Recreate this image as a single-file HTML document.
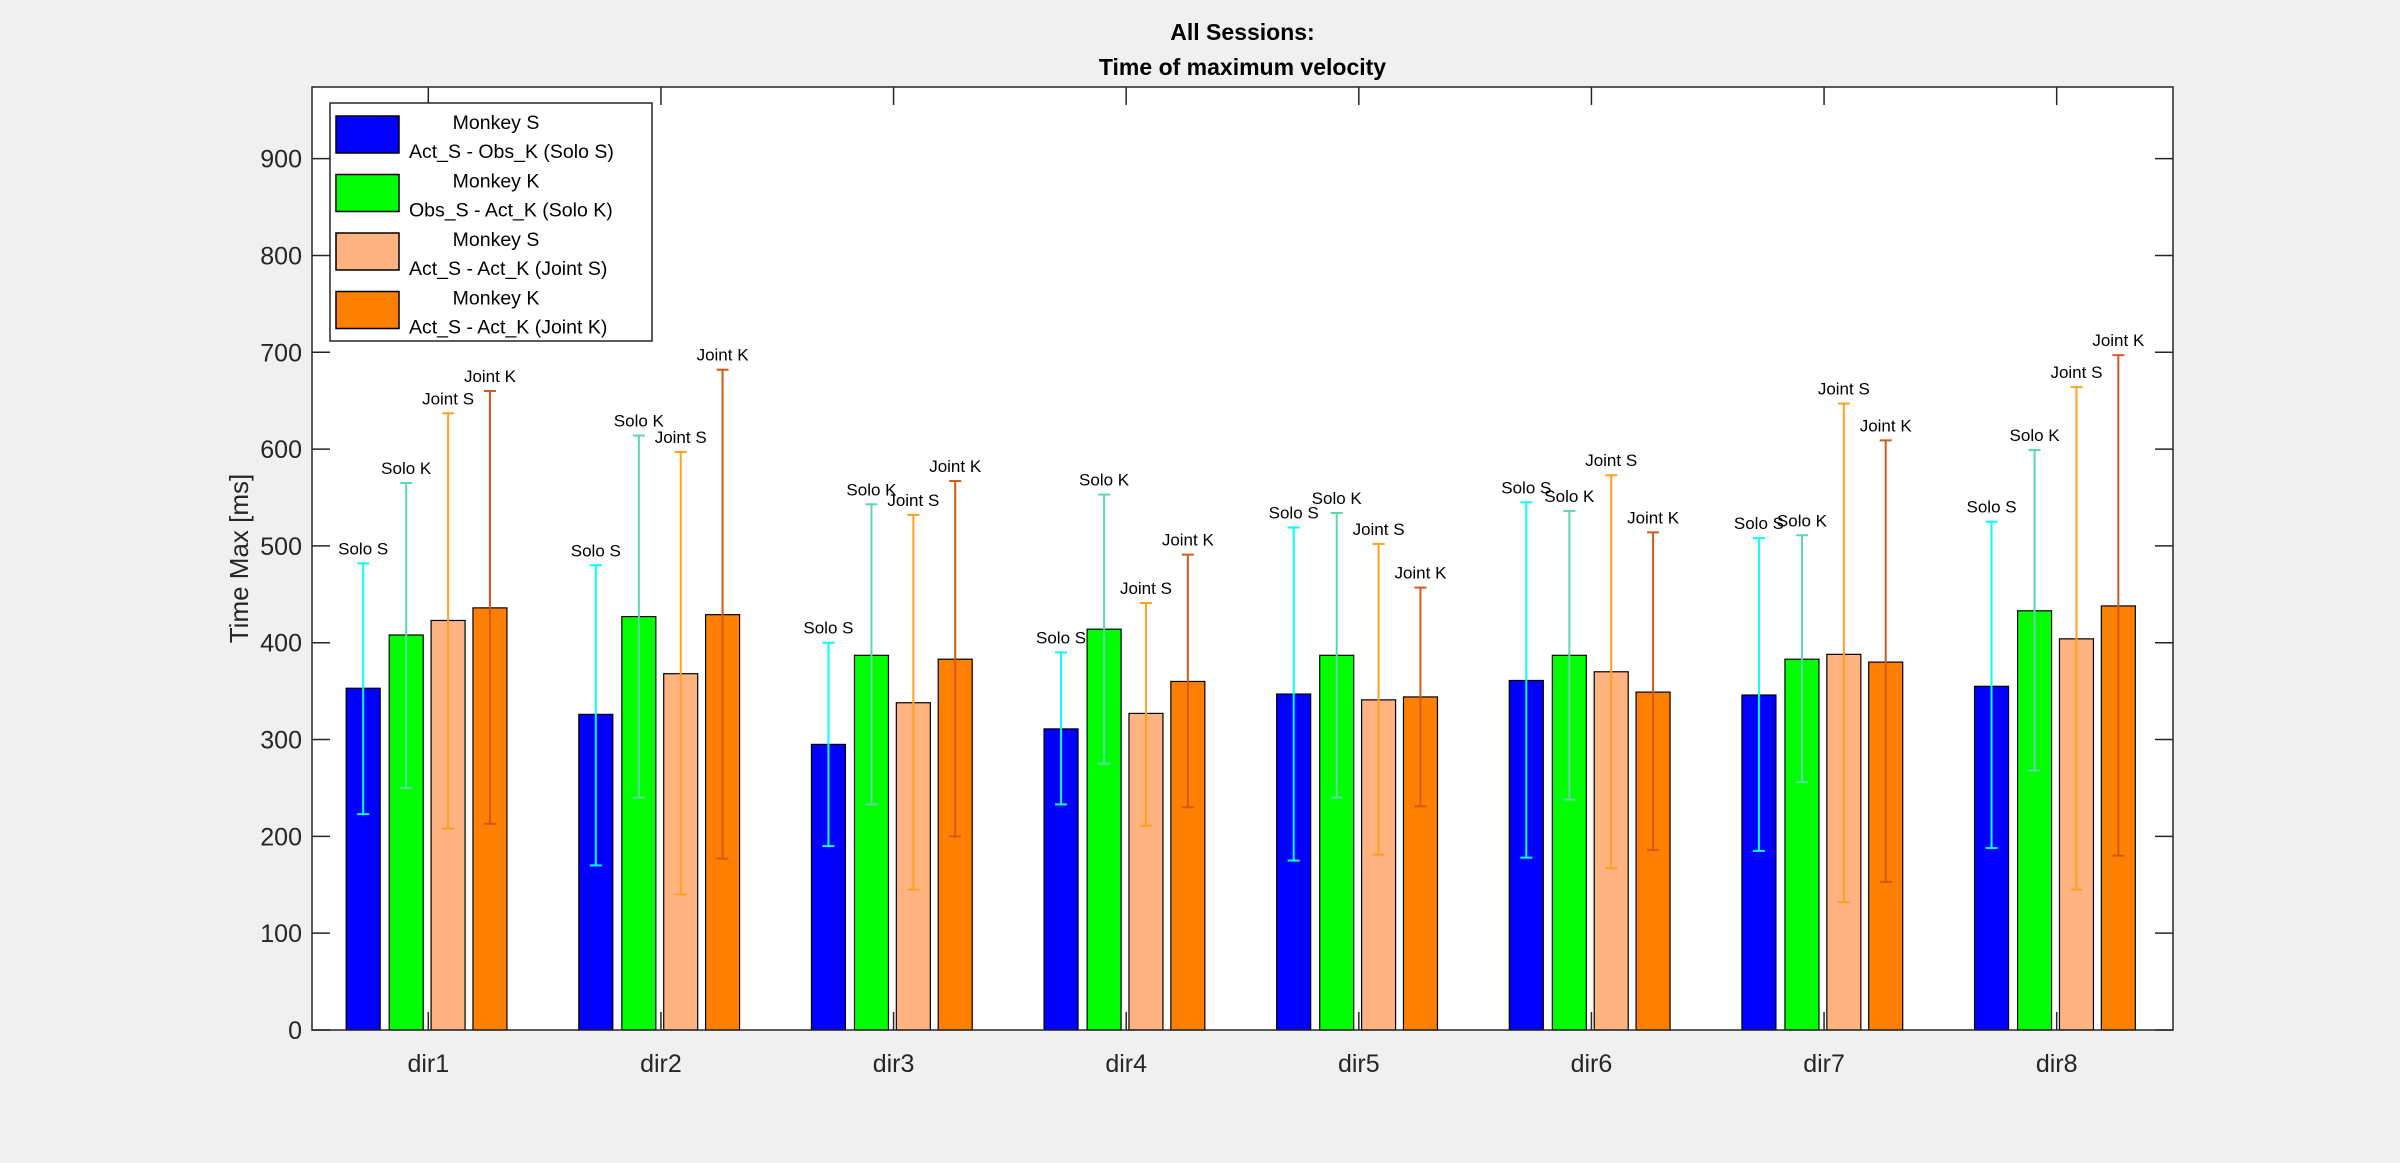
<!DOCTYPE html>
<html><head><meta charset="utf-8"><style>
body{margin:0;background:#f0f0f0;width:2400px;height:1158px;overflow:hidden;font-family:"Liberation Sans",Arial,sans-serif}
</style></head><body>
<svg id="chart" width="2400" height="1158" xmlns="http://www.w3.org/2000/svg" font-family="Liberation Sans, Arial, sans-serif"></svg>
<script>
const categories=["dir1","dir2","dir3","dir4","dir5","dir6","dir7","dir8"];
const seriesNames=["Solo S","Solo K","Joint S","Joint K"];
const soloS=[353,326,295,311,347,361,346,355];
const soloSLo=[223,170,190,233,175,178,185,188];
const soloSHi=[482,480,400,390,519,545,508,525];
const soloK=[408,427,387,414,387,387,383,433];
const soloKLo=[250,240,233,275,240,238,256,268];
const soloKHi=[565,614,543,553,534,536,511,599];
const jointS=[423,368,338,327,341,370,388,404];
const jointSLo=[208,140,145,211,181,167,132,145];
const jointSHi=[637,597,532,441,502,573,647,664];
const jointK=[436,429,383,360,344,349,380,438];
const jointKLo=[213,177,200,230,231,186,153,180];
const jointKHi=[660,682,567,491,457,514,609,697];
const yTicks=[0,100,200,300,400,500,600,700,800,900];
const legendLines=[["Monkey S","Act_S - Obs_K (Solo S)"],["Monkey K","Obs_S - Act_K (Solo K)"],["Monkey S","Act_S - Act_K (Joint S)"],["Monkey K","Act_S - Act_K (Joint K)"]];

const svg=document.getElementById('chart');
const NS="http://www.w3.org/2000/svg";
const L=312,R=2173,T=87,B=1030,yMax=974;
const xs=v=>L+(v-0.5)/8*(R-L);
const ys=v=>B-v/yMax*(B-T);
function el(tag,attrs,parent){const e=document.createElementNS(NS,tag);for(const k in attrs)e.setAttribute(k,attrs[k]);(parent||svg).appendChild(e);return e;}
function txt(s,attrs){const t=el('text',attrs);t.textContent=s;return t;}

const bg=el('rect',{x:L,y:T,width:R-L,height:B-T,fill:'#fff'});



const vals=[soloS,soloK,jointS,jointK],los=[soloSLo,soloKLo,jointSLo,jointKLo],his=[soloSHi,soloKHi,jointSHi,jointKHi];
const fills=['#0000ff','#00ff00','#ffb380','#ff8000'];
const errC=['#00ffff','#5fd8a8','#ffa020','#d05a1a'];
const offs=[-0.28,-0.095,0.085,0.265];
const bw=34;
categories.forEach((c,i)=>{
  for(let s=0;s<4;s++){
    const cx=xs(i+1+offs[s]);
    const r=el('rect',{x:cx-bw/2,y:ys(vals[s][i]),width:bw,height:B-ys(vals[s][i]),fill:fills[s],stroke:'#000','stroke-width':1.2});
    
    
  }
});
categories.forEach((c,i)=>{
  for(let s=0;s<4;s++){
    const cx=xs(i+1+offs[s]);
    const g=el('g',{stroke:errC[s],'stroke-width':2});
    
    
    el('line',{x1:cx,x2:cx,y1:ys(los[s][i]),y2:ys(his[s][i])},g);
    el('line',{x1:cx-6,x2:cx+6,y1:ys(los[s][i]),y2:ys(los[s][i])},g);
    el('line',{x1:cx-6,x2:cx+6,y1:ys(his[s][i]),y2:ys(his[s][i])},g);
    const t=txt(seriesNames[s],{x:cx,y:ys(his[s][i])-9,'font-size':17,'text-anchor':'middle',fill:'#000'});
    
    
  }
});
// axes box
const box=el('rect',{x:L,y:T,width:R-L,height:B-T,fill:'none',stroke:'#262626','stroke-width':1.5});


yTicks.forEach(v=>{
  el('line',{x1:L,x2:L+18,y1:ys(v),y2:ys(v),stroke:'#262626','stroke-width':1.5});
  el('line',{x1:R,x2:R-18,y1:ys(v),y2:ys(v),stroke:'#262626','stroke-width':1.5});
  const t=txt(String(v),{x:L-10,y:ys(v)+9,'font-size':25,'text-anchor':'end',fill:'#262626'});
  
  
});
categories.forEach((c,i)=>{
  const x=xs(i+1);
  el('line',{x1:x,x2:x,y1:B,y2:B-18,stroke:'#262626','stroke-width':1.5});
  el('line',{x1:x,x2:x,y1:T,y2:T+18,stroke:'#262626','stroke-width':1.5});
  const t=txt(c,{x:x,y:B+42,'font-size':25,'text-anchor':'middle',fill:'#262626'});
  
  
});
const yl=txt('Time Max [ms]',{x:0,y:0,'font-size':26,'text-anchor':'middle',fill:'#262626',transform:'translate(248,'+((T+B)/2)+') rotate(-90)'});


const t1=txt('All Sessions:',{x:(L+R)/2,y:40,'font-size':23,'font-weight':'bold','text-anchor':'middle',fill:'#000'});


const t2=txt('Time of maximum velocity',{x:(L+R)/2,y:75,'font-size':23,'font-weight':'bold','text-anchor':'middle',fill:'#000'});


// legend
const lg=el('g',{});


el('rect',{x:330,y:103,width:322,height:238,fill:'#fff',stroke:'#262626','stroke-width':1.5},lg);
legendLines.forEach((ln,k)=>{
  const y0=116+k*58.5;
  const sw=el('rect',{x:336,y:y0,width:63,height:37,fill:fills[k],stroke:'#000','stroke-width':1.5},lg);
  
  
  const a=txt(ln[0],{x:496,y:y0+13,'font-size':19.5,'text-anchor':'middle',fill:'#000'});
  lg.appendChild(a);
  
  
  const b=txt(ln[1],{x:409,y:y0+42,'font-size':19.5,fill:'#000'});
  lg.appendChild(b);
  
  
});
</script>
</body></html>
